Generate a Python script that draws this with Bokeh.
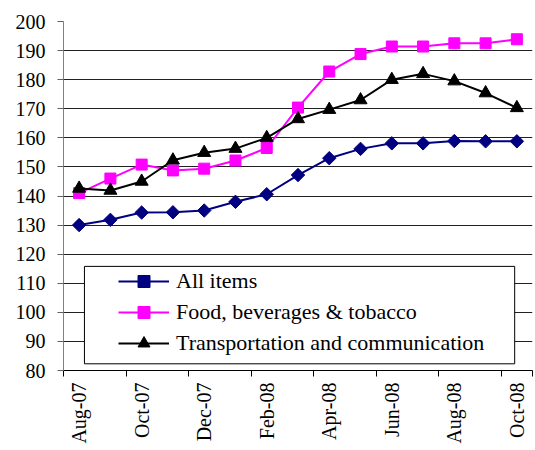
import math
from bokeh.plotting import figure
from bokeh.models import Range1d, FixedTicker, ColumnDataSource, Legend, LegendItem, BoxAnnotation
from bokeh.embed import file_html
from bokeh.resources import INLINE

months = ["Aug-07", "Sep-07", "Oct-07", "Nov-07", "Dec-07", "Jan-08", "Feb-08", "Mar-08",
          "Apr-08", "May-08", "Jun-08", "Jul-08", "Aug-08", "Sep-08", "Oct-08"]
all_items = [130.0, 131.8, 134.3, 134.4, 135.0, 138.0, 140.6, 147.2, 153.0, 156.2,
             158.1, 158.1, 158.9, 158.8, 158.8]
food = [141.0, 146.0, 150.8, 148.8, 149.4, 152.2, 156.5, 170.4, 182.8, 188.8,
        191.4, 191.4, 192.5, 192.5, 193.9]
transport = [142.6, 141.9, 145.0, 152.3, 154.9, 156.3, 160.0, 166.5, 169.7, 173.0,
             180.0, 182.0, 179.5, 175.4, 170.3]
y_ticks = list(range(80, 201, 10))
series_names = ["All items", "Food, beverages & tobacco", "Transportation and communication"]

FONT = "Liberation Serif"
idx = list(range(len(months)))
src = ColumnDataSource(dict(x=idx, a=all_items, f=food, t=transport))

p = figure(width=535, height=446, output_backend="svg", toolbar_location=None,
           x_range=Range1d(-0.5, len(months) - 0.5), y_range=Range1d(80, 200),
           min_border_left=63, min_border_right=3, min_border_top=21, min_border_bottom=75)
p.outline_line_color = None
p.background_fill_color = "white"
p.border_fill_color = "white"

label_pos = idx[::2]
p.xaxis.ticker = FixedTicker(ticks=label_pos,
                             minor_ticks=[i - 0.5 for i in idx[::2]] + [len(months) - 0.5])
p.xaxis.major_label_overrides = {i: months[i] for i in label_pos}
p.xaxis.major_tick_out = 0
p.xaxis.major_tick_in = 0
p.xaxis.minor_tick_out = 6
p.xaxis.minor_tick_in = 0
p.xaxis.minor_tick_line_color = "black"
p.xaxis.axis_line_color = "black"
p.xaxis.major_label_orientation = math.pi / 2
p.xaxis.major_label_standoff = 6
p.xaxis.major_label_text_font = FONT
p.xaxis.major_label_text_font_size = "20px"
p.xaxis.major_label_text_color = "black"
p.xgrid.grid_line_color = None

p.yaxis.ticker = FixedTicker(ticks=y_ticks)
p.yaxis.axis_line_color = "#808080"
p.yaxis.major_tick_line_color = "#606060"
p.yaxis.major_tick_out = 6
p.yaxis.major_tick_in = 0
p.yaxis.minor_tick_line_color = None
p.yaxis.major_label_standoff = 12
p.yaxis.major_label_text_font = FONT
p.yaxis.major_label_text_font_size = "20px"
p.yaxis.major_label_text_color = "black"
p.ygrid.grid_line_color = "#202020"
p.ygrid.grid_line_width = 1

l1 = p.line("x", "a", source=src, line_color="#000080", line_width=2)
m1 = p.scatter("x", "a", source=src, marker="square", angle=math.pi / 4, size=9.5,
               fill_color="#000080", line_color="#000080")
l2 = p.line("x", "f", source=src, line_color="#FF00FF", line_width=2)
m2 = p.scatter("x", "f", source=src, marker="square", size=11,
               fill_color="#FF00FF", line_color="#FF00FF")
l3 = p.line("x", "t", source=src, line_color="black", line_width=2)
m3 = p.scatter("x", "t", source=src, marker="triangle", size=13,
               fill_color="black", line_color="black")

box = BoxAnnotation(left=0.17, right=13.93, bottom=82.3, top=115.8,
                    fill_color="white", fill_alpha=1.0, line_color="black", line_width=1,
                    line_alpha=1.0)
p.add_layout(box)

legend = Legend(items=[LegendItem(label=series_names[0], renderers=[l1, m1]),
                       LegendItem(label=series_names[1], renderers=[l2, m2]),
                       LegendItem(label=series_names[2], renderers=[l3, m3])],
                location=(55, 12), padding=0, margin=0, spacing=1,
                glyph_width=51, glyph_height=30, label_height=30, label_standoff=7,
                border_line_color=None, background_fill_alpha=0,
                label_text_font=FONT, label_text_font_size="22px",
                label_text_color="black")
p.add_layout(legend)

open("out.html", "w").write(file_html(p, INLINE))
